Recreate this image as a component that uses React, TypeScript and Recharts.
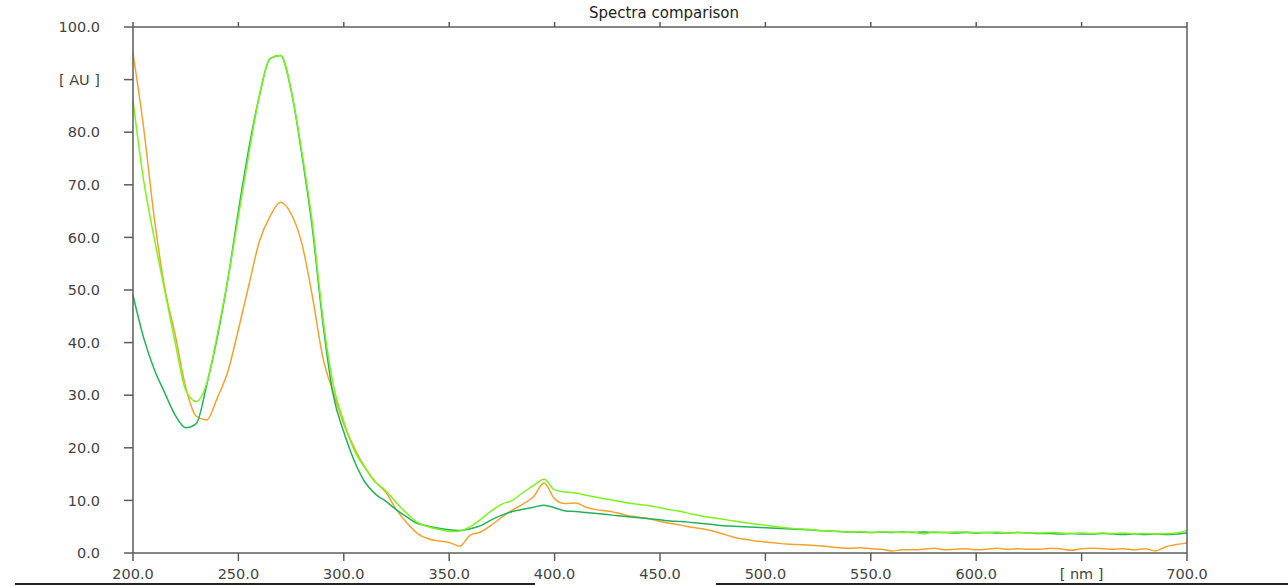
import React from 'react';
import { LineChart, Line, XAxis, YAxis } from 'recharts';

// wavelength grid, 5 nm steps
const wavelengths = [
  200, 205, 210, 215, 220, 225, 230, 235, 240, 245, 250, 255, 260, 265, 270, 275, 280, 285, 290, 295,
  300, 305, 310, 315, 320, 325, 330, 335, 340, 345, 350, 355, 360, 365, 370, 375, 380, 385, 390, 395,
  400, 405, 410, 415, 420, 425, 430, 435, 440, 445, 450, 455, 460, 465, 470, 475, 480, 485, 490, 495,
  500, 505, 510, 515, 520, 525, 530, 535, 540, 545, 550, 555, 560, 565, 570, 575, 580, 585, 590, 595,
  600, 605, 610, 615, 620, 625, 630, 635, 640, 645, 650, 655, 660, 665, 670, 675, 680, 685, 690, 695,
  700,
];

const greenSpectrum = [
  49, 41, 35, 30.5, 26.2, 23.8, 24.6, 32, 41, 52, 65, 77, 87, 94, 94.6, 88, 76, 62, 44, 30,
  23, 17.5, 13.5, 11.2, 9.8, 8.2, 6.8, 5.6, 5.1, 4.7, 4.4, 4.3, 4.6, 5.2, 6.3, 7.2, 7.9, 8.3, 8.7, 9.1,
  8.6, 8.0, 7.9, 7.7, 7.5, 7.3, 7.1, 6.9, 6.7, 6.5, 6.3, 6.1, 6.0, 5.8, 5.6, 5.4, 5.2, 5.1, 5.0, 4.9,
  4.8, 4.7, 4.6, 4.5, 4.4, 4.3, 4.2, 4.1, 4.0, 4.0, 3.9, 4.0, 3.9, 4.0, 3.9, 4.0, 3.9, 3.9, 3.8, 3.9,
  3.8, 3.9, 3.8, 3.8, 3.9, 3.8, 3.7, 3.7, 3.6, 3.7, 3.6, 3.6, 3.7, 3.6, 3.5, 3.6, 3.5, 3.6, 3.5, 3.6,
  3.8,
];

const limeSpectrum = [
  86, 71, 60, 50, 40, 31, 28.8, 32.3, 41.5, 52, 64, 76, 87, 94, 94.6, 88, 76.5, 63, 45, 32,
  25, 19.5, 16.2, 13.5, 11.8, 9.5, 7.5, 5.8, 5.0, 4.5, 4.1, 4.2, 5.0, 6.4, 8.0, 9.3, 10.0, 11.5, 12.8, 14.0,
  12.0, 11.6, 11.4, 11.0, 10.6, 10.2, 9.9, 9.5, 9.2, 9.0, 8.6, 8.2, 7.9, 7.4, 7.0, 6.7, 6.4, 6.1, 5.8, 5.5,
  5.3, 5.0, 4.8, 4.6, 4.5, 4.3, 4.2, 4.1, 4.0, 4.1, 3.9, 4.0, 4.0, 3.9, 4.0, 3.6, 4.0, 3.9, 4.0, 4.0,
  3.9, 3.9, 4.0, 3.8, 3.9, 3.8, 3.8, 3.9, 3.8, 3.7, 3.8, 3.7, 3.8, 3.7, 3.8, 3.6, 3.7, 3.6, 3.7, 3.8,
  4.3,
];

const orangeSpectrum = [
  95, 81, 64, 50.5, 41.5, 31.5, 26, 25.3, 29.5, 34.5, 42.5, 51, 59.3, 64, 66.7, 64.5, 59, 49, 37.3, 30.5,
  24.5, 20, 16.3, 13.5, 11.5, 8.2, 5.7, 3.7, 2.7, 2.3, 2.0, 1.3, 3.4, 4.0, 5.3, 6.8, 8.2, 9.3, 10.7, 13.3,
  10.3, 9.4, 9.5, 8.7, 8.2, 8.0, 7.6, 7.1, 6.8, 6.5, 6.0, 5.6, 5.3, 4.9, 4.6, 4.2, 3.6, 3.0, 2.6, 2.3,
  2.1, 1.9, 1.7, 1.6, 1.5, 1.4, 1.2, 1.0, 0.9, 1.0, 0.8, 0.7, 0.4, 0.6, 0.6, 0.7, 0.9, 0.6, 0.7, 0.8,
  0.6, 0.7, 0.9, 0.7, 0.8, 0.7, 0.7, 0.9, 0.8, 0.5, 0.8, 0.9, 0.8, 0.7, 0.8, 0.6, 0.8, 0.4, 1.2, 1.6,
  1.9,
];

const xTicks = [200, 250, 300, 350, 400, 450, 500, 550, 600, 650, 700];
const yTicks = [0, 10, 20, 30, 40, 50, 60, 70, 80, 90, 100];

const data = wavelengths.map((nm, i) => ({
  nm,
  green: greenSpectrum[i],
  lime: limeSpectrum[i],
  orange: orangeSpectrum[i],
}));

const FONT = '"DejaVu Sans", sans-serif';
const AXIS = '#5c5c5c';
const LABEL = '#444';

const yLabel = (v: number) => (v === 90 ? '[ AU ]' : v.toFixed(1));
const xLabel = (v: number) => (v === 650 ? '[ nm ]' : v.toFixed(1));

const RightTick = (props: any) => {
  const { x, y, payload } = props;
  return (
    <text x={x + 21} y={y} dy="0.36em" textAnchor="middle" fill={LABEL} fontSize={14.5} fontFamily={FONT}>
      {yLabel(payload.value)}
    </text>
  );
};

export default function App() {
  return (
    <div style={{ position: 'absolute', left: 0, top: 0, width: 1288, height: 586, background: '#fff' }}>
      <div
        style={{
          position: 'absolute',
          left: 664,
          top: 4,
          transform: 'translateX(-50%)',
          fontFamily: FONT,
          fontSize: 15,
          color: '#222',
          whiteSpace: 'nowrap',
        }}
      >
        Spectra comparison
      </div>
      <LineChart width={1288} height={586} data={data} margin={{ top: 26, right: 8, bottom: 3, left: 8 }}>
        <XAxis
          dataKey="nm"
          type="number"
          domain={[200, 700]}
          ticks={xTicks}
          tickFormatter={xLabel}
          height={30}
          tickSize={8}
          tickMargin={8}
          stroke={AXIS}
          strokeWidth={1.5}
          tick={{ fill: LABEL, fontSize: 14.5, fontFamily: FONT }}
        />
        <XAxis
          xAxisId="top"
          orientation="top"
          dataKey="nm"
          type="number"
          domain={[200, 700]}
          ticks={xTicks}
          height={1}
          tickSize={5}
          tick={{ fill: 'none', fontSize: 1 }}
          stroke={AXIS}
          strokeWidth={1.5}
        />
        <YAxis
          yAxisId="left"
          domain={[0, 100]}
          ticks={yTicks}
          tickFormatter={yLabel}
          width={125}
          tickSize={9}
          tickMargin={24}
          stroke={AXIS}
          strokeWidth={1.5}
          tick={{ fill: LABEL, fontSize: 14.5, fontFamily: FONT }}
        />
        <YAxis
          yAxisId="right"
          orientation="right"
          domain={[0, 100]}
          ticks={yTicks}
          width={93}
          tickSize={9}
          tickMargin={21}
          stroke={AXIS}
          strokeWidth={1.5}
          tick={<RightTick />}
        />
        <Line yAxisId="left" type="monotone" dataKey="orange" stroke="#f2a32c" strokeWidth={1.5} dot={false} isAnimationActive={false} />
        <Line yAxisId="left" type="monotone" dataKey="green" stroke="#22b35a" strokeWidth={1.5} dot={false} isAnimationActive={false} />
        <Line yAxisId="left" type="monotone" dataKey="lime" stroke="#7cf41c" strokeWidth={1.5} dot={false} isAnimationActive={false} />
      </LineChart>
      <div style={{ position: 'absolute', left: 15, top: 583, width: 520, height: 1.5, background: '#222' }} />
      <div style={{ position: 'absolute', left: 716, top: 583, width: 572, height: 1.5, background: '#222' }} />
    </div>
  );
}
